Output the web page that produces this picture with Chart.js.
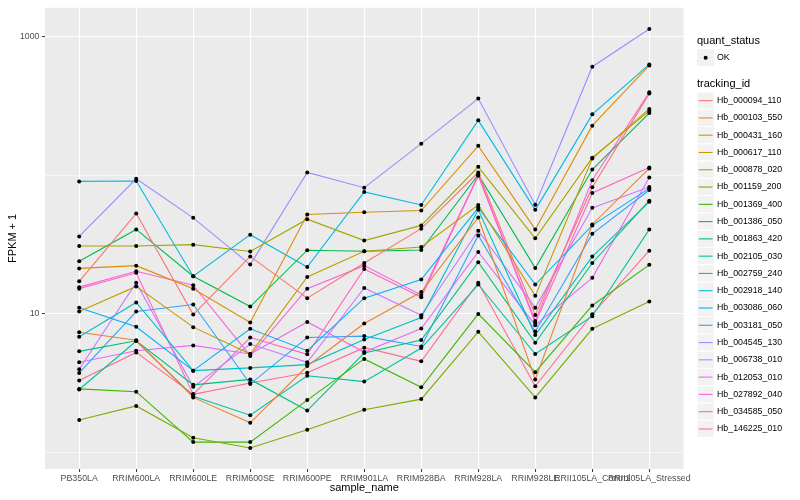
<!DOCTYPE html>
<html>
<head>
<meta charset="utf-8">
<script src="https://cdn.jsdelivr.net/npm/chart.js@4.4.0/dist/chart.umd.min.js"></script>
<style>
  html, body { margin: 0; padding: 0; background: #fff; }
  #wrap { width: 800px; height: 500px; }
</style>
</head>
<body>
<div id="wrap"><canvas id="grafico" width="800" height="500"></canvas></div>
<script>
// Categorías del eje x
const muestras = ['PB350LA', 'RRIM600LA', 'RRIM600LE', 'RRIM600SE', 'RRIM600PE', 'RRIM901LA',
    'RRIM928BA', 'RRIM928LA', 'RRIM928LE', 'RRII105LA_Control', 'RRII105LA_Stressed'];

// Marcas del eje y (log10) y sus etiquetas
const marcasY = [1, 10, 100, 1000];
const etiquetasY = ['', '10', '', '1000'];
const marcasMayores = [10, 1000];

// Valores FPKM + 1 por gen
const hb_000094_110 = [17.2, 53.0, 9.9, 26.0, 13.0, 23.3, 41.2, 104.7, 9.84, 82.0, 388];
const hb_000103_550 = [7.37, 6.46, 2.50, 1.64, 4.21, 8.52, 14.4, 49.6, 3.37, 44.2, 112];
const hb_000431_160 = [21.3, 22.3, 15.2, 8.66, 52.1, 54.1, 55.7, 163, 40.7, 228, 620];
const hb_000617_110 = [10.4, 15.8, 8.03, 5.14, 18.5, 28.3, 30.4, 61.1, 13.5, 132, 301];
const hb_000878_020 = [30.9, 30.9, 31.6, 28.2, 48.2, 33.8, 43.5, 115, 35.1, 134, 291];
const hb_001159_200 = [1.72, 2.17, 1.28, 1.08, 1.46, 2.04, 2.43, 7.43, 2.50, 7.81, 12.3];
const hb_001369_400 = [2.88, 2.75, 1.19, 1.19, 2.39, 4.74, 2.96, 10.0, 3.80, 11.5, 22.6];
const hb_001386_050 = [24.0, 40.7, 18.7, 11.3, 28.8, 28.3, 28.9, 101, 21.4, 110, 281];
const hb_001863_420 = [5.37, 6.40, 3.08, 3.37, 2.01, 5.23, 6.48, 23.6, 6.20, 23.3, 65.6];
const hb_002105_030 = [2.85, 6.37, 2.55, 1.86, 3.58, 3.25, 5.68, 16.3, 5.14, 9.63, 40.7];
const hb_002759_240 = [6.84, 12.1, 3.90, 4.08, 4.31, 6.54, 9.41, 56.3, 7.04, 25.9, 64.3];
const hb_002918_140 = [90.3, 90.9, 18.7, 37.3, 21.8, 75.8, 61.1, 249, 56.3, 275, 630];
const hb_003086_060 = [11.1, 8.07, 3.90, 7.81, 5.43, 13.0, 17.7, 58.5, 16.3, 43.5, 80.4];
const hb_003181_050 = [3.75, 10.4, 11.7, 3.12, 6.76, 6.92, 5.83, 36.8, 7.47, 37.8, 78.3];
const hb_004545_130 = [36.2, 94.4, 49.3, 22.7, 104.7, 81.4, 169, 358, 61.4, 607, 1136];
const hb_006738_010 = [3.99, 16.8, 2.98, 6.06, 4.48, 15.4, 9.79, 39.8, 11.1, 58.2, 82.3];
const hb_012053_010 = [4.48, 5.43, 5.93, 5.14, 8.76, 5.31, 7.85, 28.0, 8.30, 18.2, 96.4];
const hb_027892_040 = [15.6, 20.3, 16.1, 4.98, 15.2, 22.3, 13.7, 100.3, 8.91, 92.1, 397];
const hb_034585_050 = [15.2, 19.8, 2.63, 6.76, 5.11, 21.1, 13.2, 99.2, 8.62, 74.6, 114];
const hb_146225_010 = [3.31, 5.28, 2.63, 3.18, 3.76, 5.71, 4.55, 16.8, 3.01, 9.95, 28.6];

const idsSeguimiento = ['Hb_000094_110', 'Hb_000103_550', 'Hb_000431_160', 'Hb_000617_110',
    'Hb_000878_020', 'Hb_001159_200', 'Hb_001369_400', 'Hb_001386_050', 'Hb_001863_420',
    'Hb_002105_030', 'Hb_002759_240', 'Hb_002918_140', 'Hb_003086_060', 'Hb_003181_050',
    'Hb_004545_130', 'Hb_006738_010', 'Hb_012053_010', 'Hb_027892_040', 'Hb_034585_050',
    'Hb_146225_010'];

const valoresSerie = [hb_000094_110, hb_000103_550, hb_000431_160, hb_000617_110, hb_000878_020,
    hb_001159_200, hb_001369_400, hb_001386_050, hb_001863_420, hb_002105_030, hb_002759_240,
    hb_002918_140, hb_003086_060, hb_003181_050, hb_004545_130, hb_006738_010, hb_012053_010,
    hb_027892_040, hb_034585_050, hb_146225_010];

// Paleta de tonos por defecto de ggplot (20 colores)
const coloresSerie = ['#F8766D', '#EA8331', '#D89000', '#C09B00', '#A3A500', '#7CAE00', '#39B600',
    '#00BB4E', '#00BF7D', '#00C1A3', '#00BFC4', '#00BAE0', '#00B0F6', '#35A2FF', '#9590FF',
    '#C77CFF', '#E76BF3', '#FA62DB', '#FF62BC', '#FF6C91'];

const fuente = '"Liberation Sans", Arial, Helvetica, sans-serif';

// Fondo gris del panel
const fondoPanel = {
    id: 'fondoPanel',
    beforeDraw(chart) {
        const { ctx, chartArea: a } = chart;
        ctx.save();
        ctx.fillStyle = '#fff';
        ctx.fillRect(0, 0, chart.width, chart.height);
        ctx.fillStyle = '#EBEBEB';
        ctx.fillRect(a.left, a.top, a.right - a.left, a.bottom - a.top);
        ctx.restore();
    }
};

// Puntos negros encima de todas las líneas
const puntosNegros = {
    id: 'puntosNegros',
    afterDatasetsDraw(chart) {
        const ctx = chart.ctx;
        ctx.save();
        ctx.fillStyle = '#000';
        chart.data.datasets.forEach((ds, i) => {
            chart.getDatasetMeta(i).data.forEach(pt => {
                ctx.beginPath();
                ctx.arc(pt.x, pt.y, 2, 0, Math.PI * 2);
                ctx.fill();
            });
        });
        ctx.restore();
    }
};

// Títulos de ejes y leyenda estilo ggplot
const leyendaYTitulos = {
    id: 'leyendaYTitulos',
    afterDraw(chart) {
        const { ctx, chartArea: a } = chart;
        ctx.save();
        ctx.fillStyle = '#000';
        ctx.font = '11px ' + fuente;
        ctx.textBaseline = 'middle';
        ctx.textAlign = 'center';
        ctx.fillText('sample_name', (a.left + a.right) / 2, 488);
        ctx.save();
        ctx.translate(12.5, (a.top + a.bottom) / 2);
        ctx.rotate(-Math.PI / 2);
        ctx.fillText('FPKM + 1', 0, 0);
        ctx.restore();

        const x0 = 697, caja = 17.28;
        ctx.textAlign = 'left';
        ctx.fillText('quant_status', x0, 40.5);
        ctx.fillStyle = '#F2F2F2';
        ctx.fillRect(x0, 49, caja, caja);
        ctx.fillStyle = '#000';
        ctx.beginPath();
        ctx.arc(x0 + caja / 2, 49 + caja / 2, 2, 0, Math.PI * 2);
        ctx.fill();
        ctx.font = '8.8px ' + fuente;
        ctx.fillText('OK', x0 + 20, 49 + caja / 2);

        ctx.font = '11px ' + fuente;
        ctx.fillText('tracking_id', x0, 84.3);
        const y0 = 92;
        idsSeguimiento.forEach((id, i) => {
            const yt = y0 + i * caja;
            ctx.fillStyle = '#F2F2F2';
            ctx.fillRect(x0, yt, caja, caja);
            ctx.strokeStyle = '#fff';
            ctx.lineWidth = 1;
            ctx.strokeRect(x0, yt, caja, caja);
            ctx.strokeStyle = coloresSerie[i];
            ctx.lineWidth = 1.1;
            ctx.beginPath();
            ctx.moveTo(x0 + 1.7, yt + caja / 2);
            ctx.lineTo(x0 + caja - 1.7, yt + caja / 2);
            ctx.stroke();
            ctx.fillStyle = '#000';
            ctx.font = '8.8px ' + fuente;
            ctx.fillText(id, x0 + 20, yt + caja / 2);
        });
        ctx.restore();
    }
};

const datasets = valoresSerie.map((valores, i) => ({
    label: idsSeguimiento[i],
    data: valores.map((v, j) => ({ x: j, y: v })),
    borderColor: coloresSerie[i],
    backgroundColor: coloresSerie[i],
    borderWidth: 1.1,
    pointRadius: 0,
    fill: false,
    tension: 0
}));

new Chart(document.getElementById('grafico'), {
    type: 'line',
    data: { datasets },
    options: {
        responsive: false,
        animation: false,
        devicePixelRatio: 1,
        layout: { padding: { left: 0, right: 116.5, top: 5, bottom: 0 } },
        plugins: { legend: { display: false }, tooltip: { enabled: false } },
        scales: {
            x: {
                type: 'linear',
                min: -0.6,
                max: 10.6,
                afterBuildTicks: s => { s.ticks = muestras.map((_, i) => ({ value: i })); },
                afterFit: s => { s.height = 31; },
                ticks: {
                    autoSkip: false, maxRotation: 0, minRotation: 0, padding: 1,
                    color: '#4D4D4D', font: { family: fuente, size: 8.8 },
                    callback: (v, i) => muestras[i]
                },
                grid: { color: '#fff', lineWidth: 1.1, tickLength: 3, tickColor: '#333', tickWidth: 1 },
                border: { display: false }
            },
            y: {
                type: 'logarithmic',
                min: 0.7615,
                max: 1614,
                afterBuildTicks: s => { s.ticks = marcasY.map(v => ({ value: v })); },
                afterFit: s => { s.width = 45; },
                ticks: {
                    padding: 2.5, color: '#4D4D4D', font: { family: fuente, size: 8.8 },
                    callback: (v, i) => etiquetasY[i]
                },
                grid: {
                    color: '#fff',
                    lineWidth: c => marcasMayores.includes(c.tick && c.tick.value) ? 1.1 : 0.55,
                    tickLength: 3,
                    tickColor: c => marcasMayores.includes(c.tick && c.tick.value) ? '#333' : 'rgba(0,0,0,0)',
                    tickWidth: 1
                },
                border: { display: false }
            }
        }
    },
    plugins: [fondoPanel, puntosNegros, leyendaYTitulos]
});
</script>
</body>
</html>
